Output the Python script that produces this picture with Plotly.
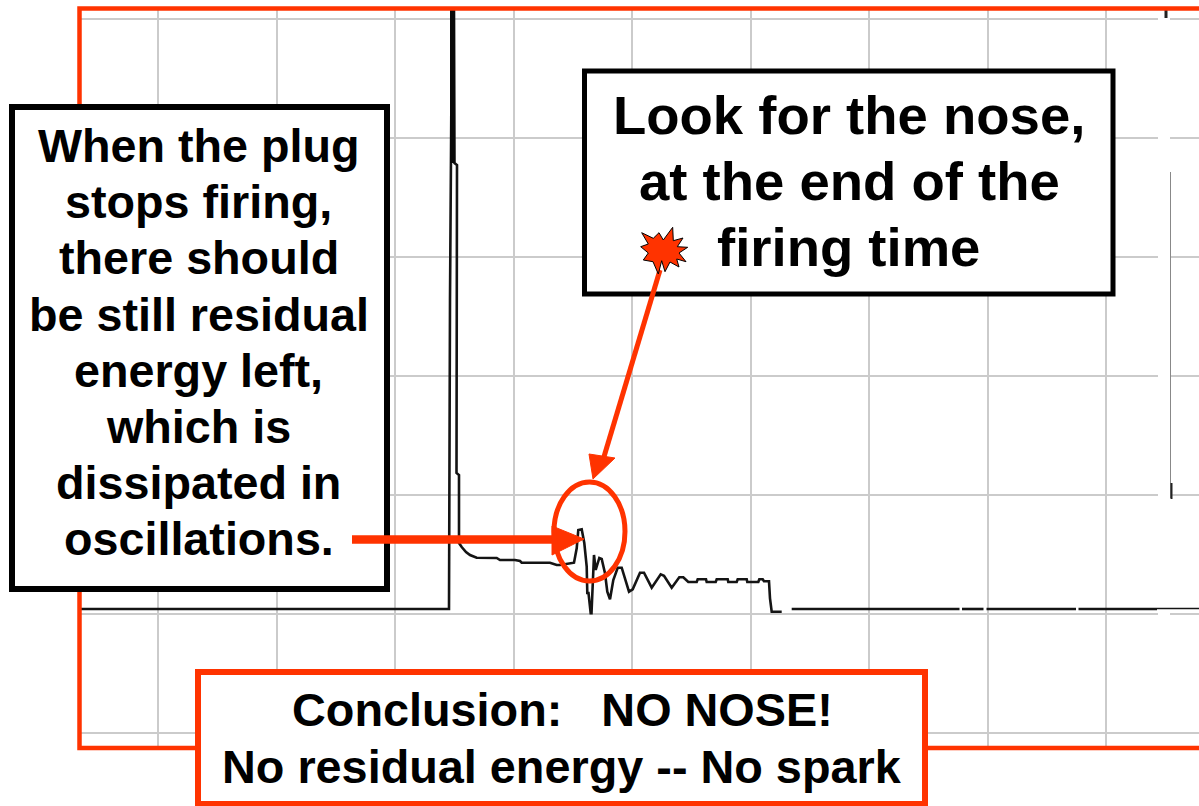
import plotly.graph_objects as go

ORANGE = "#FF3300"
GRID = "#cbcbcb"

grid_x = [158, 276.5, 395, 513.5, 632, 750.5, 869, 987.5, 1106]
grid_y = [18.5, 137.5, 256.5, 375.5, 494.5, 613.5, 733]

trace_x = [80, 449, 450, 452, 453, 454, 454.5, 457, 456.5, 459, 459, 461.7, 466, 470, 476.7, 496.7, 500, 515, 520, 521.7, 550, 556.7, 560, 574, 576.7, 578.3, 581.7, 584.3, 586.7, 587.3, 588.5, 590.7, 591.5, 592.3, 594, 595.7, 599.3, 601.7, 605, 607.3, 610, 613.3, 617.7, 621.7, 629, 632.7, 640, 644, 651.7, 660.7, 664, 671.7, 679.3, 683.3, 688.3, 696.7, 697.7, 706, 706.7, 715.7, 716.7, 727.7, 728.3, 736.7, 737.7, 746.7, 747.3, 758.3, 759.3, 762.7, 764, 769, 770, 771.7, 781.7, None, 791.7, 959.5, None, 962, 983.5, None, 986.5, 1076, None, 1078.5, 1157]
trace_y = [609, 609, 300, 10, 10, 10, 163, 165, 473, 475, 543, 547, 552, 555, 557.7, 558, 560, 560, 561, 562.7, 562.7, 565, 565, 562.7, 548.3, 530, 529.3, 543, 566.7, 593, 593, 613.3, 613.3, 586.7, 555, 570, 558, 559, 573.3, 591.7, 599.3, 580, 567.7, 567.7, 591.7, 589.3, 572.7, 572.7, 587.7, 574.3, 575.7, 587.7, 577.3, 577.3, 582, 582, 579.3, 579.3, 582, 582, 579.3, 579.3, 582, 582, 579.3, 579.3, 582, 582, 579.3, 579.3, 581.3, 581.3, 598.3, 611.7, 611.7, None, 609, 609, None, 609, 609, None, 609, 609, None, 609, 609]

spike_x = [452.5, 452.5]
spike_y = [10, 163]
tail_x = [1157, 1199]
tail_y = [608.5, 608.5]

left_lines = ["When the plug", "stops firing,", "there should", "be still residual", "energy left,", "which is", "dissipated in", "oscillations."]
left_y = [146, 202, 258, 315, 371, 427, 483, 539]
nose_lines = ["Look for the nose,", "at the end of the", "firing time"]
nose_y = [115, 181, 247]
nose_x = [849, 849, 848]
end_lines = ["Conclusion:   NO NOSE!", "No residual energy -- No spark"]
end_y = [710, 767]

burst = [(641.7, 232.7), (653.3, 238.3), (659, 232.7), (663.3, 240), (672.7, 227.3), (673.3, 240.7), (683, 238),
         (677.3, 246.7), (687.7, 247.3), (679, 253), (686, 261.7), (676.7, 259), (679, 267), (670, 262),
         (665, 271.7), (661.7, 260.7), (658.3, 274), (653, 261.7), (643.3, 260), (648.3, 253), (640.7, 246.7),
         (648.3, 244)]
burst_path = "M " + " L ".join(f"{a},{b}" for a, b in burst) + " Z"


def rect(x0, y0, x1, y1, color=None, width=0, fill=None, layer="above"):
    return dict(type="rect", xref="x", yref="y", x0=x0, y0=y0, x1=x1, y1=y1, layer=layer,
                line=dict(color=color or "rgba(0,0,0,0)", width=width), fillcolor=fill)


def seg(x0, y0, x1, y1, color, width):
    return dict(type="line", xref="x", yref="y", x0=x0, y0=y0, x1=x1, y1=y1, layer="above",
                line=dict(color=color, width=width))


fig = go.Figure()
fig.add_trace(go.Scatter(x=trace_x, y=trace_y, mode="lines", hoverinfo="skip", showlegend=False,
                         connectgaps=False, line=dict(color="#141414", width=2.6)))
fig.add_trace(go.Scatter(x=spike_x, y=spike_y, mode="lines", hoverinfo="skip", showlegend=False,
                         line=dict(color="#0a0a0a", width=5)))
fig.add_trace(go.Scatter(x=tail_x, y=tail_y, mode="lines", hoverinfo="skip", showlegend=False,
                         line=dict(color="#141414", width=1.4)))

shapes = [
    # area outside the orange frame
    rect(0, 0, 79, 806, fill="white"),
    rect(0, 0, 1199, 8, fill="white"),
    rect(0, 749, 1199, 806, fill="white"),
    # erased strips at the right of the original screenshot
    rect(1158, 17, 1170, 606, fill="white"),
    rect(1158, 498, 1199, 606, fill="white"),
    rect(1158, 611, 1170, 620, fill="white"),
    seg(1170.5, 172, 1170.5, 498, "#888888", 1),
    seg(1171.5, 483, 1171.5, 499, "#222222", 2),
    seg(1166, 10, 1166, 18, "#222222", 3),
    # orange frame
    dict(type="path", xref="x", yref="y", layer="above",
         path="M 1199,748 L 79.5,748 L 79.5,8.5 L 1199,8.5",
         line=dict(color=ORANGE, width=4.5)),
    # text boxes
    rect(12, 107, 387, 589, "black", 6, "white"),
    rect(584.5, 71, 1113, 294, "black", 5, "white"),
    rect(198, 672, 925, 804, ORANGE, 6, "white"),
    # arrows
    seg(660, 270, 603, 460, ORANGE, 5),
    dict(type="path", xref="x", yref="y", layer="above", path="M 593,479 L 589,454 L 615,458 Z",
         fillcolor=ORANGE, line=dict(color=ORANGE, width=1)),
    seg(352, 539.5, 560, 539.5, ORANGE, 8.5),
    dict(type="path", xref="x", yref="y", layer="above", path="M 584,539 L 552,526 L 552,555 Z",
         fillcolor=ORANGE, line=dict(color=ORANGE, width=1)),
    # circled nose
    dict(type="circle", xref="x", yref="y", x0=554, y0=482, x1=625, y1=581, layer="above",
         line=dict(color=ORANGE, width=5)),
    # burst
    dict(type="path", xref="x", yref="y", layer="above", path=burst_path, fillcolor=ORANGE,
         line=dict(color="black", width=1)),
]

annotations = []
for txt, yy in zip(left_lines, left_y):
    annotations.append(dict(x=198.5, y=yy, text=txt, font=dict(size=46.7)))
for txt, yy, xx in zip(nose_lines, nose_y, nose_x):
    annotations.append(dict(x=xx, y=yy, text=txt, font=dict(size=54.5)))
for txt, yy in zip(end_lines, end_y):
    annotations.append(dict(x=562, y=yy, text=txt, font=dict(size=46.8)))
for a in annotations:
    a.update(xref="x", yref="y", showarrow=False, xanchor="center", yanchor="middle")
    a["text"] = "<b>" + a["text"].replace("   ", "&nbsp;&nbsp;&nbsp;") + "</b>"
    a["font"].update(family="Liberation Sans, Arial, sans-serif", color="black")

fig.update_layout(
    width=1199, height=806, autosize=False,
    margin=dict(l=0, r=0, t=0, b=0),
    paper_bgcolor="white", plot_bgcolor="white",
    shapes=shapes, annotations=annotations, showlegend=False,
    xaxis=dict(range=[0, 1199], tickvals=grid_x, showticklabels=False, ticks="", showgrid=True,
               gridcolor=GRID, gridwidth=2, zeroline=False, showline=False),
    yaxis=dict(range=[806, 0], tickvals=grid_y, showticklabels=False, ticks="", showgrid=True,
               gridcolor=GRID, gridwidth=2, zeroline=False, showline=False),
)
fig.write_html("out.html", config=dict(displayModeBar=False),
               post_script="document.body.style.margin='0';document.documentElement.style.overflow='hidden';")
